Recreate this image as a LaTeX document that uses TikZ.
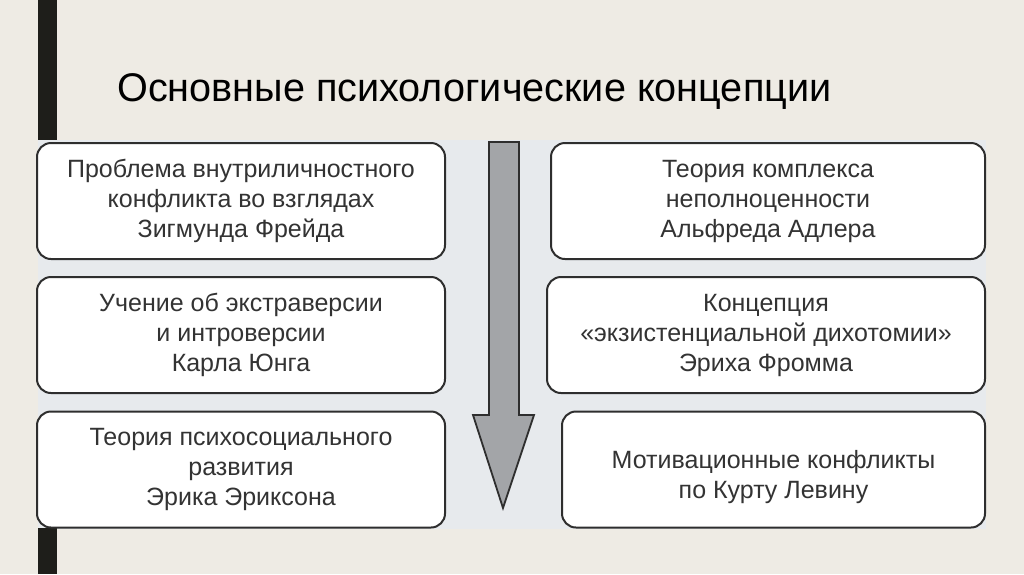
\documentclass[tikz,border=0pt]{standalone}
\usepackage{fontspec}
\newfontfamily\boxfont{Liberation Sans}
\newfontfamily\titlefont[FakeStretch=0.99]{Liberation Sans}
\definecolor{bgc}{HTML}{EEEBE4}
\definecolor{panelc}{HTML}{E7EAED}
\definecolor{arrowc}{HTML}{A3A5A8}
\definecolor{linec}{HTML}{2E2E2E}
\definecolor{txtc}{HTML}{333333}
\definecolor{barc}{HTML}{1E1E1A}
\tikzset{
  box/.style={draw=linec, line width=2pt, fill=white, rounded corners=14pt,
    minimum height=116pt, align=center, text=txtc,
    font=\boxfont\fontsize{25}{30}\selectfont, inner sep=0pt},
}
\begin{document}
\begin{tikzpicture}[x=1pt,y=-1pt]
\useasboundingbox (0,0) rectangle (1024,574);
\fill[bgc] (0,0) rectangle (1024,574);
\fill[panelc] (38,140) rectangle (986,529);
\fill[barc] (38,0) rectangle (57,140);
\fill[barc] (38,528) rectangle (57,574);
\node[anchor=base west, text=black, font=\titlefont\fontsize{40}{44}\selectfont, inner sep=0pt] (title) at (117,101) {Основные психологические концепции};
\node[box, minimum width=408pt] (l1) at (241,201) {Проблема внутриличностного\\конфликта во взглядах\\Зигмунда Фрейда};
\node[box, minimum width=408pt] (l2) at (241,335) {Учение об экстраверсии\\и интроверсии\\Карла Юнга};
\node[box, minimum width=408pt] (l3) at (241,469.5) {Теория психосоциального\\развития\\Эрика Эриксона};
\node[box, minimum width=434pt] (r1) at (768,201) {Теория комплекса\\неполноценности\\Альфреда Адлера};
\node[box, minimum width=438pt] (r2) at (766,335) {Концепция\\«экзистенциальной дихотомии»\\Эриха Фромма};
\node[box, minimum width=423pt] (r3) at (773.5,469.5) {\rule{0pt}{33pt}Мотивационные конфликты\\по Курту Левину};
\draw[linec, line width=1.8pt, fill=arrowc, line join=miter]
  (489,142) -- (519,142) -- (519,415) -- (534,415) -- (503,508) -- (473,415) -- (489,415) -- cycle;
\end{tikzpicture}
\end{document}
